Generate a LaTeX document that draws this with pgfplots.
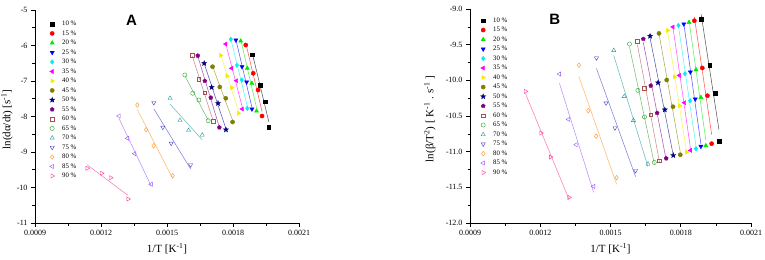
\documentclass[border=0pt]{standalone}
\usepackage{fontspec}
\setmainfont{Liberation Serif}
\newfontfamily\panelfont{Liberation Sans}
\usepackage{pgfplots}
\usepackage{pgfplotstable}
\pgfplotsset{compat=1.18}
\usetikzlibrary{plotmarks}

\pgfdeclareplotmark{fstar}{%
  \pgfpathmoveto{\pgfpointpolar{90}{1.25\pgfplotmarksize}}%
  \pgfpathlineto{\pgfpointpolar{126}{0.5\pgfplotmarksize}}%
  \pgfpathlineto{\pgfpointpolar{162}{1.25\pgfplotmarksize}}%
  \pgfpathlineto{\pgfpointpolar{198}{0.5\pgfplotmarksize}}%
  \pgfpathlineto{\pgfpointpolar{234}{1.25\pgfplotmarksize}}%
  \pgfpathlineto{\pgfpointpolar{270}{0.5\pgfplotmarksize}}%
  \pgfpathlineto{\pgfpointpolar{306}{1.25\pgfplotmarksize}}%
  \pgfpathlineto{\pgfpointpolar{342}{0.5\pgfplotmarksize}}%
  \pgfpathlineto{\pgfpointpolar{18}{1.25\pgfplotmarksize}}%
  \pgfpathlineto{\pgfpointpolar{54}{0.5\pgfplotmarksize}}%
  \pgfpathclose
  \pgfusepathqfillstroke
}

\definecolor{c10}{RGB}{0,0,0}
\definecolor{c15}{RGB}{255,0,0}
\definecolor{c20}{RGB}{0,235,0}
\definecolor{c25}{RGB}{0,0,255}
\definecolor{c30}{RGB}{0,240,240}
\definecolor{c35}{RGB}{255,0,255}
\definecolor{c40}{RGB}{245,235,0}
\definecolor{c45}{RGB}{128,128,0}
\definecolor{c50}{RGB}{0,0,128}
\definecolor{c55}{RGB}{128,0,128}
\definecolor{c60}{RGB}{165,80,80}
\definecolor{c65}{RGB}{40,160,40}
\definecolor{c70}{RGB}{30,150,150}
\definecolor{c75}{RGB}{60,60,200}
\definecolor{c80}{RGB}{255,145,30}
\definecolor{c85}{RGB}{150,80,255}
\definecolor{c90}{RGB}{255,50,150}

% columns: x = 1/T, a = panel A value, b = panel B value; one row per heating rate
\pgfplotstableread{
x10 a10 b10 x15 a15 b15 x20 a20 b20 x25 a25 b25 x30 a30 b30 x35 a35 b35 x40 a40 b40 x45 a45 b45 x50 a50 b50 x55 a55 b55 x60 a60 b60 x65 a65 b65 x70 a70 b70 x75 a75 b75 x80 a80 b80 x85 a85 b85 x90 a90 b90
0.001887 -6.259 -9.143 0.001858 -5.986 -9.164 0.001835 -5.873 -9.188 0.001813 -5.845 -9.210 0.001790 -5.825 -9.230 0.001767 -5.958 -9.252 0.001744 -6.276 -9.300 0.001707 -6.597 -9.342 0.001669 -6.501 -9.379 0.001640 -6.287 -9.421 0.001615 -6.276 -9.449 0.001581 -6.831 -9.491 0.001514 -7.487 -9.580 0.001440 -7.611 -9.687 0.001365 -7.676 -9.788 0.001282 -7.986 -9.911 0.001137 -9.459 -10.155
0.001924 -7.113 -9.791 0.001892 -6.783 -9.827 0.001865 -6.642 -9.851 0.001841 -6.597 -9.883 0.001818 -6.558 -9.907 0.001794 -6.642 -9.931 0.001773 -6.859 -9.953 0.001740 -7.169 -9.995 0.001703 -7.177 -10.033 0.001672 -7.000 -10.075 0.001645 -6.952 -10.108 0.001617 -7.346 -10.141 0.001559 -8.107 -10.225 0.001481 -8.304 -10.318 0.001405 -8.372 -10.426 0.001321 -8.614 -10.548 0.001203 -9.600 -10.738
0.001947 -7.583 -10.180 0.001914 -7.254 -10.215 0.001886 -7.065 -10.239 0.001862 -7.028 -10.262 0.001840 -6.972 -10.286 0.001816 -6.992 -10.314 0.001795 -7.189 -10.356 0.001767 -7.487 -10.370 0.001732 -7.628 -10.412 0.001699 -7.470 -10.458 0.001672 -7.330 -10.482 0.001645 -7.535 -10.514 0.001598 -8.389 -10.562 0.001519 -8.755 -10.668 0.001439 -8.823 -10.783 0.001353 -9.048 -10.902 0.001244 -9.724 -11.075
0.001963 -8.296 -10.853 0.001932 -7.986 -10.888 0.001907 -7.845 -10.916 0.001886 -7.789 -10.926 0.001865 -7.769 -10.958 0.001842 -7.789 -10.982 0.001825 -7.910 -11.005 0.001798 -8.155 -11.043 0.001768 -8.372 -11.052 0.001738 -8.310 -11.094 0.001709 -8.127 -11.127 0.001687 -8.118 -11.151 0.001660 -8.521 -11.173 0.001607 -9.366 -11.267 0.001526 -9.668 -11.365 0.001428 -9.910 -11.487 0.001323 -10.324 -11.641
}\data

\newcommand{\ser}[4]{%
  \addplot[#3!65, line width=0.55bp, no marks, forget plot] table[x=#1, y={create col/linear regression={x=#1,y=#2}}]{\data};
  \addplot[#3, only marks, #4] table[x=#1,y=#2]{\data};
}

\pgfplotsset{
  common/.style={
    scale only axis, anchor=south west, clip=false,
    xmin=0.0009, xmax=0.0021,
    xtick={0.0009,0.0012,0.0015,0.0018,0.0021},
    minor xtick={0.00105,0.00135,0.00165,0.00195},
    scaled x ticks=false, scaled y ticks=false,
    axis lines*=left,
    axis line style={line width=0.8bp},
    tick align=outside,
    major tick length=4bp, minor tick length=2.5bp,
    every tick/.style={black, line width=0.6bp},
    tick label style={font=\fontsize{8bp}{9bp}\selectfont},
    /pgf/number format/assume math mode=true,
    xticklabel style={/pgf/number format/.cd, fixed, fixed zerofill, precision=4, assume math mode=true},
    label style={font=\fontsize{11bp}{12bp}\selectfont},
    xlabel={1/T [K\textsuperscript{-1}]},
    xlabel style={at={([yshift=-26bp]axis description cs:0.5,0)}, anchor=center},
    mark size=2.1bp,
    legend image code/.code={\draw[mark repeat=2,mark phase=2,#1] plot coordinates {(0bp,0bp) (4bp,0bp) (8bp,0bp)};},
    legend cell align=left,
    legend style={draw=none, fill=none, inner sep=0pt, row sep=0pt,
      font=\fontsize{6.8bp}{7bp}\selectfont,
      nodes={inner sep=1.5bp, text height=5bp, text depth=1.5bp},
      /tikz/every odd column/.append style={column sep=6bp}},
    legend entries={10 \%,15 \%,20 \%,25 \%,30 \%,35 \%,40 \%,45 \%,50 \%,55 \%,60 \%,65 \%,70 \%,75 \%,80 \%,85 \%,90 \%},
  }
}

\begin{document}
\begin{tikzpicture}
\path[use as bounding box] (0,0) rectangle (765bp,260bp);
% ---------------- Panel A ----------------
\begin{axis}[common, at={(35bp,37bp)}, width=264bp, height=213bp,
  ymin=-11, ymax=-5,
  ytick={-11,-10,-9,-8,-7,-6,-5},
  minor ytick={-10.5,-9.5,-8.5,-7.5,-6.5,-5.5},
  ylabel={ln(dα/dt) [s\textsuperscript{-1}]},
  ylabel style={at={([xshift=-28bp,yshift=-3bp]axis description cs:0,0.5)}, anchor=center},
  legend style={at={(rel axis cs:0,1)}, anchor=north west, xshift=14.5bp, yshift=-9bp},
]
\ser{x10}{a10}{c10}{mark=square*, mark options={scale=0.85}}
\ser{x15}{a15}{c15}{mark=*}
\ser{x20}{a20}{c20}{mark=triangle*, mark options={scale=1.15}}
\ser{x25}{a25}{c25}{mark=triangle*, mark options={rotate=180, scale=1.15}}
\ser{x30}{a30}{c30}{mark=diamond*, mark options={scale=1.1}}
\ser{x35}{a35}{c35}{mark=triangle*, mark options={rotate=90, scale=1.15}}
\ser{x40}{a40}{c40}{mark=triangle*, mark options={rotate=-90, scale=1.15}}
\ser{x45}{a45}{c45}{mark=*}
\ser{x50}{a50}{c50}{mark=fstar}
\ser{x55}{a55}{c55}{mark=pentagon*}
\ser{x60}{a60}{c60}{mark=square, mark options={fill=white, scale=0.85}}
\ser{x65}{a65}{c65}{mark=o, mark options={fill=white}}
\ser{x70}{a70}{c70}{mark=triangle, mark options={fill=white, scale=1.15}}
\ser{x75}{a75}{c75}{mark=triangle, mark options={fill=white, rotate=180, scale=1.15}}
\ser{x80}{a80}{c80}{mark=diamond, mark options={fill=white, scale=1.1}}
\ser{x85}{a85}{c85}{mark=triangle, mark options={fill=white, rotate=90, scale=1.15}}
\ser{x90}{a90}{c90}{mark=triangle, mark options={fill=white, rotate=-90, scale=1.15}}
\node[font=\panelfont\bfseries\fontsize{15bp}{15bp}\selectfont] at (rel axis cs:0.366,0.95) {A};
\end{axis}
% ---------------- Panel B ----------------
\begin{axis}[common, at={(470bp,37bp)}, width=281bp, height=214bp,
  ymin=-12, ymax=-9,
  ytick={-12,-11.5,-11,-10.5,-10,-9.5,-9},
  minor ytick={-11.75,-11.25,-10.75,-10.25,-9.75,-9.25},
  yticklabel style={/pgf/number format/.cd, fixed, fixed zerofill, precision=1, assume math mode=true},
  ylabel={ln(β/T\textsuperscript{2}) [ K\textsuperscript{-1} . s\textsuperscript{-1} ]},
  ylabel style={at={([xshift=-40bp,yshift=-3bp]axis description cs:0,0.5)}, anchor=center},
  legend style={at={(rel axis cs:0,1)}, anchor=north west, xshift=10.5bp, yshift=-6.6bp},
]
\ser{x10}{b10}{c10}{mark=square*, mark options={scale=0.85}}
\ser{x15}{b15}{c15}{mark=*}
\ser{x20}{b20}{c20}{mark=triangle*, mark options={scale=1.15}}
\ser{x25}{b25}{c25}{mark=triangle*, mark options={rotate=180, scale=1.15}}
\ser{x30}{b30}{c30}{mark=diamond*, mark options={scale=1.1}}
\ser{x35}{b35}{c35}{mark=triangle*, mark options={rotate=90, scale=1.15}}
\ser{x40}{b40}{c40}{mark=triangle*, mark options={rotate=-90, scale=1.15}}
\ser{x45}{b45}{c45}{mark=*}
\ser{x50}{b50}{c50}{mark=fstar}
\ser{x55}{b55}{c55}{mark=pentagon*}
\ser{x60}{b60}{c60}{mark=square, mark options={fill=white, scale=0.85}}
\ser{x65}{b65}{c65}{mark=o, mark options={fill=white}}
\ser{x70}{b70}{c70}{mark=triangle, mark options={fill=white, scale=1.15}}
\ser{x75}{b75}{c75}{mark=triangle, mark options={fill=white, rotate=180, scale=1.15}}
\ser{x80}{b80}{c80}{mark=diamond, mark options={fill=white, scale=1.1}}
\ser{x85}{b85}{c85}{mark=triangle, mark options={fill=white, rotate=90, scale=1.15}}
\ser{x90}{b90}{c90}{mark=triangle, mark options={fill=white, rotate=-90, scale=1.15}}
\node[font=\panelfont\bfseries\fontsize{15bp}{15bp}\selectfont] at (rel axis cs:0.302,0.95) {B};
\end{axis}
\end{tikzpicture}
\end{document}
